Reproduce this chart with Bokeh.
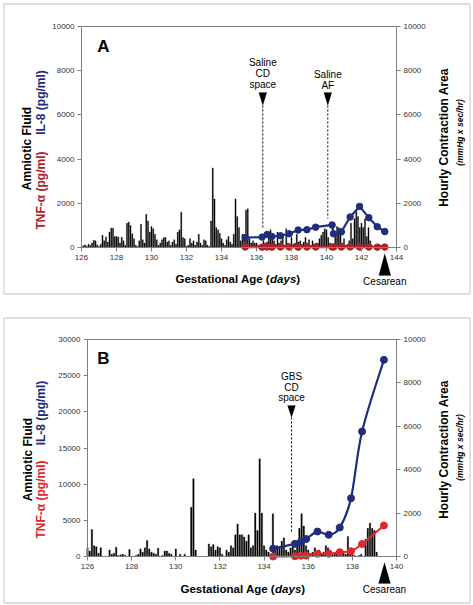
import math
from bokeh.plotting import figure
from bokeh.models import Range1d, LinearAxis, Label, PolyAnnotation, FixedTicker
from bokeh.layouts import column
from bokeh.embed import file_html
from bokeh.resources import INLINE

# ------------------------- DATA -------------------------
# Panel A: hourly contraction area (mmHg x sec/hr), one value per 0.1 day from day 126.0
bars_a_start = 126.0
bars_step = 0.1
contraction_a = [
    0, 80, 120, 60, 150, 100, 200, 330, 300, 120,          # 126
    50, 150, 550, 300, 480, 250, 700, 880, 870, 500,       # 127
    500, 480, 200, 460, 300, 100, 1100, 1150, 1000, 620,   # 128
    400, 100, 50, 300, 1050, 350, 200, 1500, 1200, 700,    # 129
    950, 850, 600, 350, 100, 200, 350, 450, 450, 250,      # 130
    300, 100, 250, 350, 150, 700, 800, 1600, 450, 400,     # 131
    60, 100, 400, 200, 300, 100, 250, 600, 200, 100,       # 132
    350, 300, 100, 50, 1200, 3600, 2200, 900, 800, 650,    # 133
    400, 200, 100, 350, 500, 250, 150, 600, 2200, 1400,    # 134
    900, 300, 600, 400, 1700, 1750, 400, 200, 300, 200,    # 135
    200, 100, 50, 150, 300, 200, 250, 600, 800, 500,       # 136
    300, 150, 700, 200, 300, 500, 100, 850, 200, 150,      # 137
    450, 150, 200, 600, 250, 300, 150, 250, 450, 200,      # 138
    350, 100, 300, 150, 200, 200, 400, 550, 700, 850,      # 139
    800, 450, 200, 100, 150, 500, 950, 900, 600, 200,      # 140
    400, 100, 150, 300, 1100, 400, 1300, 1650, 1400, 900,  # 141
    1100, 900, 1300, 500, 900, 300, 100, 50, 100, 50,      # 142
    150, 100, 50,                                          # 143
]
il8_a_days = [135.35, 136.32, 136.61, 136.88, 137.37, 137.87, 138.38, 138.88, 139.38,
              140.32, 140.40, 140.85, 141.35, 141.89, 142.42, 142.90, 143.33]
il8_a = [450, 470, 590, 500, 530, 620, 790, 805, 920, 1020, 620, 710, 1380, 1860, 1350, 940, 720]
tnf_a_days = il8_a_days
tnf_a = [20, 15, 20, 15, 20, 20, 15, 20, 20, 25, 20, 20, 25, 20, 20, 15, 20]

# Panel B
bars_b_start = 126.0
contraction_b = [
    400, 250, 1240, 500, 450, 150, 400, 0, 0, 0,           # 126
    300, 100, 150, 430, 50, 80, 100, 60, 0, 320,           # 127
    0, 0, 50, 100, 350, 200, 400, 740, 350, 200,           # 128
    150, 100, 380, 0, 50, 250, 250, 150, 100, 0,           # 129
    350, 0, 100, 0, 100, 0, 0, 2270, 3580, 300,            # 130
    0, 0, 0, 0, 0, 580, 450, 550, 300, 450,                # 131
    400, 100, 0, 300, 200, 500, 400, 1000, 1500, 1000,     # 132
    1000, 900, 700, 1000, 400, 500, 2000, 1200, 4500, 2000,  # 133
    500, 300, 200, 100, 1970, 300, 500, 400, 700, 860,     # 134
    300, 200, 400, 700, 300, 600, 1300, 1970, 1400, 500,   # 135
    300, 150, 200, 400, 100, 300, 150, 200, 500, 400,      # 136
    300, 100, 200, 150, 100, 200, 150, 100, 920, 300,      # 137
    100, 50, 0, 50, 100, 0, 800, 1300, 1540, 1300,         # 138
    1200, 200,                                             # 139
]
il8_b_days = [134.41, 135.40, 135.67, 135.91, 136.42, 136.93, 137.43, 137.94, 138.44, 139.43]
il8_b = [1100, 1750, 2050, 2420, 3450, 3000, 4000, 8060, 17280, 27190]
tnf_b_days = il8_b_days
tnf_b = [0, 30, 100, 120, 370, 370, 600, 740, 1720, 4290]

x_ticks_a = [126, 128, 130, 132, 134, 136, 138, 140, 142, 144]
x_ticks_b = [126, 128, 130, 132, 134, 136, 138, 140]
left_ticks_a = [0, 2000, 4000, 6000, 8000, 10000]
left_ticks_b = [0, 5000, 10000, 15000, 20000, 25000, 30000]
right_ticks = [0, 2000, 4000, 6000, 8000, 10000]

# ------------------------- STYLE -------------------------
FONT = "Liberation Sans"
NAVY = "#1f2d7b"
RED_A = "#b0222a"
RED_B = "#e0262f"
GRAY = "#7f7f7f"
ROT = math.pi / 2


def to_data(g, px, py):
    x = g["x0"] + (px - g["left"]) / g["w"] * (g["x1"] - g["x0"])
    y = g["y1"] - (py - g["top"]) / g["h"] * (g["y1"] - g["y0"])
    return x, y


def to_right(g, py):
    return g["ry1"] - (py - g["top"]) / g["h"] * g["ry1"]


def add_label(p, g, px, py, text, size, color="black", style="normal",
              align="center", baseline="middle", angle=0.0):
    x, y = to_data(g, px, py)
    p.add_layout(Label(x=x, y=y, text=text, text_font=FONT, text_font_size=size,
                       text_color=color, text_font_style=style, text_align=align,
                       text_baseline=baseline, angle=angle))


def add_poly(p, g, pts, fill, line, lw):
    xs, ys = [], []
    for a, b in pts:
        x, y = to_data(g, a, b)
        xs.append(x)
        ys.append(y)
    p.add_layout(PolyAnnotation(xs=xs, ys=ys, fill_color=fill, fill_alpha=1.0 if fill else 0,
                                line_color=line, line_width=lw))


def add_tri(p, g, cx, tip_y, base_y, half_w):
    add_poly(p, g, [(cx - half_w, base_y), (cx + half_w, base_y), (cx, tip_y)],
             "black", "black", 0.5)


def style_axis(ax):
    ax.axis_line_color = GRAY
    ax.major_tick_line_color = GRAY
    ax.minor_tick_line_color = None
    ax.major_tick_out = 4
    ax.major_tick_in = 0
    ax.major_label_text_font = FONT
    ax.major_label_text_font_size = "8px"
    ax.major_label_text_color = "#333333"
    ax.major_label_standoff = 3


def make_panel(g, canvas_top, width, height, xt, lt, rt):
    # the frame fills the whole canvas; the axes sit at fixed data locations
    xa, _ = to_data(g, 0, canvas_top)
    xb, _ = to_data(g, width, canvas_top)
    _, ytop = to_data(g, 0, canvas_top)
    _, ybot = to_data(g, 0, canvas_top + height)
    p = figure(width=width, height=height, output_backend="svg", toolbar_location=None,
               x_range=Range1d(xa, xb), y_range=Range1d(ybot, ytop),
               x_axis_location=None, y_axis_location=None,
               min_border=0, min_border_left=0, min_border_right=0,
               min_border_top=0, min_border_bottom=0,
               outline_line_color=None, background_fill_color="white",
               border_fill_color="white")
    p.extra_y_ranges = {"right": Range1d(to_right(g, canvas_top + height), to_right(g, canvas_top))}
    p.xgrid.visible = False
    p.ygrid.visible = False

    xaxis = LinearAxis(fixed_location=g["y0"], bounds=(g["x0"], g["x1"]),
                       ticker=FixedTicker(ticks=xt))
    laxis = LinearAxis(fixed_location=g["x0"], bounds=(g["y0"], g["y1"]),
                       ticker=FixedTicker(ticks=lt))
    raxis = LinearAxis(fixed_location=g["x1"], bounds=(0, g["ry1"]), y_range_name="right",
                       ticker=FixedTicker(ticks=rt))
    for ax in (xaxis, laxis, raxis):
        style_axis(ax)
    p.add_layout(xaxis, "below")
    p.add_layout(laxis, "left")
    p.add_layout(raxis, "right")
    # top edge of the plot box
    p.segment(x0=[g["x0"]], y0=[g["y1"]], x1=[g["x1"]], y1=[g["y1"]],
              line_color=GRAY, line_width=1)
    return p


def bezier_path(p, xs, ys, color, width):
    n = len(xs)
    x0s, y0s, x1s, y1s, cx0, cy0, cx1, cy1 = [], [], [], [], [], [], [], []
    for i in range(n - 1):
        xp, yp = (xs[i - 1], ys[i - 1]) if i > 0 else (xs[i], ys[i])
        xn, yn = (xs[i + 2], ys[i + 2]) if i + 2 < n else (xs[i + 1], ys[i + 1])
        x0s.append(xs[i]); y0s.append(ys[i])
        x1s.append(xs[i + 1]); y1s.append(ys[i + 1])
        cx0.append(xs[i] + (xs[i + 1] - xp) / 6.0)
        cy0.append(ys[i] + (ys[i + 1] - yp) / 6.0)
        cx1.append(xs[i + 1] - (xn - xs[i]) / 6.0)
        cy1.append(ys[i + 1] - (yn - ys[i]) / 6.0)
    p.bezier(x0=x0s, y0=y0s, x1=x1s, y1=y1s, cx0=cx0, cy0=cy0, cx1=cx1, cy1=cy1,
             line_color=color, line_width=width)


# ------------------------- PANEL A (page y 0..305) -------------------------
gA = dict(left=81, top=26, w=315, h=221, x0=126, x1=144, y0=0, y1=10000, ry1=10000)
pA = make_panel(gA, 0, 473, 305, x_ticks_a, left_ticks_a, right_ticks)

days_a = [bars_a_start + bars_step * i for i in range(len(contraction_a))]
pA.vbar(x=days_a, top=contraction_a, width=0.065, y_range_name="right",
        fill_color="black", line_color="black", line_width=0.3)

for (cx, ytop, ybot) in [(262.3, 105, 227), (327.3, 105, 218)]:
    x, y0 = to_data(gA, cx, ytop)
    _, y1 = to_data(gA, cx, ybot)
    pA.segment(x0=[x], y0=[y0], x1=[x], y1=[y1], line_color="black",
               line_width=1, line_dash="2 2")

pA.line(il8_a_days, il8_a, line_color=NAVY, line_width=2.2)
pA.scatter(il8_a_days, il8_a, size=6.5, fill_color=NAVY, line_color=NAVY)
pA.line(tnf_a_days, tnf_a, line_color=RED_A, line_width=2.2)
pA.scatter(tnf_a_days, tnf_a, size=6.5, fill_color=RED_A, line_color=RED_A)

add_poly(pA, gA, [(3.5, 3.5), (469.5, 3.5), (469.5, 293.5), (3.5, 293.5)], None, "#6e6e6e", 1.3)
add_label(pA, gA, 103, 46, "A", "17px", style="bold")
add_label(pA, gA, 262.3, 62, "Saline", "10px")
add_label(pA, gA, 262.3, 73, "CD", "10px")
add_label(pA, gA, 262.3, 84, "space", "10px")
add_label(pA, gA, 327.3, 74, "Saline", "10px")
add_label(pA, gA, 327.3, 85, "AF", "10px")
add_tri(pA, gA, 262.3, 105, 92, 4)
add_tri(pA, gA, 327.3, 105, 92, 4)
add_tri(pA, gA, 384.3, 253, 275, 6)
add_label(pA, gA, 384.3, 281, "Cesarean", "10px")
add_label(pA, gA, 175, 278, "Gestational Age (", "11.5px", style="bold", align="left")
add_label(pA, gA, 269.6, 278, "days", "11.5px", style="bold italic", align="left")
add_label(pA, gA, 295.8, 278, ")", "11.5px", style="bold", align="left")
add_label(pA, gA, 26, 148, "Amniotic Fluid", "12px", style="bold", angle=ROT)
add_label(pA, gA, 40, 190, "TNF-\u03b1 (pg/ml)", "12px", color=RED_A, style="bold", angle=ROT)
add_label(pA, gA, 40, 102, "IL-8 (pg/ml)", "12px", color=NAVY, style="bold", angle=ROT)
add_label(pA, gA, 443, 137, "Hourly Contraction Area", "12px", style="bold", angle=ROT)
add_label(pA, gA, 459, 132, "(mmHg x sec/hr)", "8.5px", style="bold italic", angle=ROT)

# ------------------------- PANEL B (page y 305..605) -------------------------
gB = dict(left=87, top=339, w=309, h=217, x0=126, x1=140, y0=0, y1=30000, ry1=10000)
pB = make_panel(gB, 305, 473, 300, x_ticks_b, left_ticks_b, right_ticks)

days_b = [bars_b_start + bars_step * i for i in range(len(contraction_b))]
pB.vbar(x=days_b, top=contraction_b, width=0.065, y_range_name="right",
        fill_color="black", line_color="black", line_width=0.3)

x, y0 = to_data(gB, 291, 417)
_, y1 = to_data(gB, 291, 533)
pB.segment(x0=[x], y0=[y0], x1=[x], y1=[y1], line_color="black", line_width=1, line_dash="2 2")

bezier_path(pB, il8_b_days, il8_b, NAVY, 2.2)
pB.scatter(il8_b_days, il8_b, size=7, fill_color=NAVY, line_color=NAVY)
bezier_path(pB, tnf_b_days, tnf_b, RED_B, 2.0)
pB.scatter(tnf_b_days, tnf_b, size=7, fill_color=RED_B, line_color=RED_B)

add_poly(pB, gB, [(3.5, 317.5), (469.5, 317.5), (469.5, 602.5), (3.5, 602.5)], None, "#6e6e6e", 1.3)
add_label(pB, gB, 103, 357.5, "B", "17px", style="bold")
add_label(pB, gB, 291, 376, "GBS", "10px")
add_label(pB, gB, 291, 386.5, "CD", "10px")
add_label(pB, gB, 291, 397, "space", "10px")
add_tri(pB, gB, 291, 417, 405, 4)
add_tri(pB, gB, 384, 562, 583, 6)
add_label(pB, gB, 384, 589, "Cesarean", "10px")
add_label(pB, gB, 180, 588, "Gestational Age (", "11.5px", style="bold", align="left")
add_label(pB, gB, 274.6, 588, "days", "11.5px", style="bold italic", align="left")
add_label(pB, gB, 300.8, 588, ")", "11.5px", style="bold", align="left")
add_label(pB, gB, 27, 459, "Amniotic Fluid", "12px", style="bold", angle=ROT)
add_label(pB, gB, 40, 499, "TNF-\u03b1 (pg/ml)", "12px", color=RED_B, style="bold", angle=ROT)
add_label(pB, gB, 40, 412.5, "IL-8 (pg/ml)", "12px", color=NAVY, style="bold", angle=ROT)
add_label(pB, gB, 443, 449, "Hourly Contraction Area", "12px", style="bold", angle=ROT)
add_label(pB, gB, 459, 447, "(mmHg x sec/hr)", "8.5px", style="bold italic", angle=ROT)

layout = column(pA, pB, spacing=0)
open("out.html", "w").write(file_html(layout, INLINE))
